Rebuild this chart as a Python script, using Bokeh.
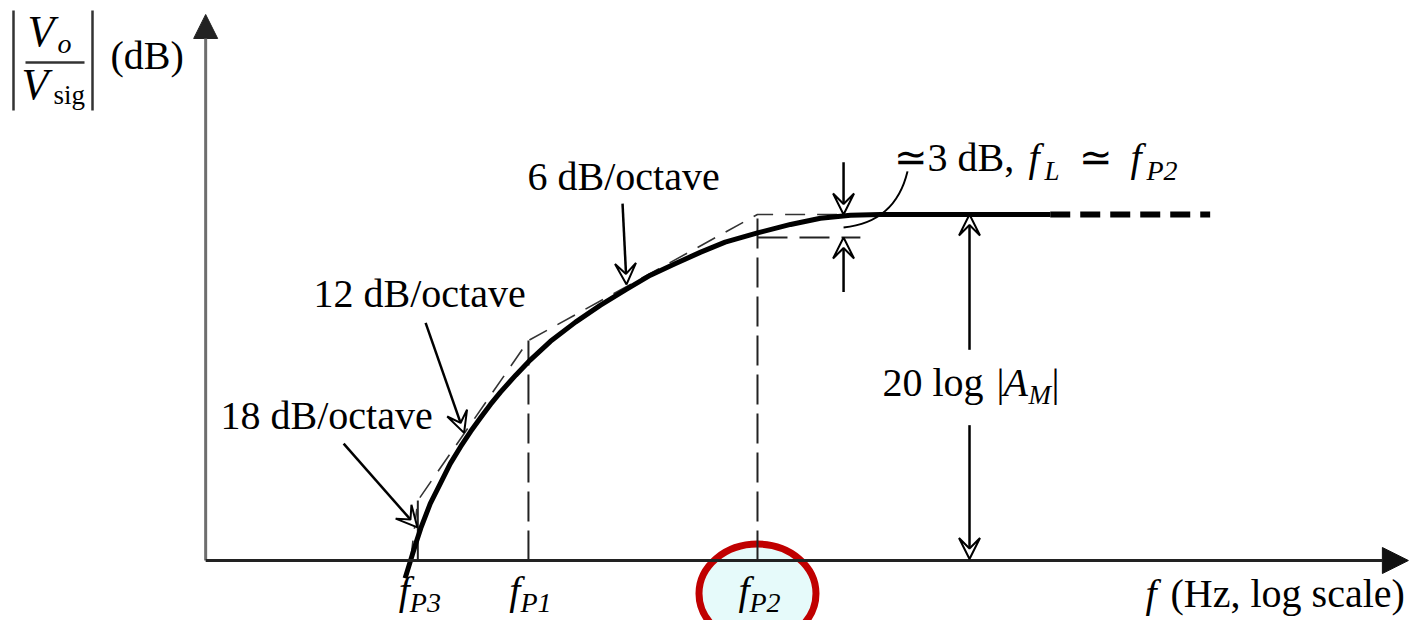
from bokeh.plotting import figure
from bokeh.models import Range1d, Arrow, VeeHead, NormalHead, Label
from bokeh.embed import file_html
from bokeh.resources import INLINE

# --- amplifier low-frequency response (three poles) ---
f_p3, f_p1, f_p2 = 12.0, 30.0, 200.0        # pole frequencies, Hz
am_db = 45.0                                  # 20 log|A_M|
drop_db = 3.0                                 # response is ~3 dB down at f_L ~ f_P2

# |Vo/Vsig| in dB along the log-frequency axis
resp_f = [10.8, 11.3, 11.8, 12.3, 13.3, 14.5, 15.7, 17.1, 18.6, 20.2, 21.9,
          23.8, 27.0, 30.5, 36.0, 44.3, 54.5, 67.0, 82.4, 101.0, 125.0, 153.0,
          200.0, 263.0, 337.0, 432.0, 554.0, 2260.0]
resp_db = [-2.3, 0.0, 2.2, 4.2, 7.4, 10.1, 12.6, 14.8, 16.8, 18.6, 20.3,
           21.9, 24.1, 26.1, 28.5, 31.0, 33.2, 35.2, 37.1, 38.6, 40.1, 41.4,
           42.6, 43.7, 44.5, 44.9, am_db, am_db]

# midband level continuing to higher frequencies
mid_f = [2260.0, 8500.0]
mid_db = [am_db, am_db]

# straight-line (Bode) asymptotes: 18 -> 12 -> 6 -> 0 dB/octave
asym_f = [11.3, f_p3, f_p1, f_p2, 400.0]
asym_db = [0.0, 7.8, 28.6, am_db, am_db]

W, H = 1414, 620
SERIF = "Liberation Serif"

p = figure(width=W, height=H, x_axis_type="log",
           x_range=Range1d(0.3784, 46180.0), y_range=Range1d(-7.8, 72.82),
           x_axis_location=None, y_axis_location=None,
           toolbar_location=None, output_backend="svg", min_border=0)
p.grid.visible = False
p.outline_line_color = None
p.background_fill_color = "white"
p.border_fill_color = "white"

f_origin = 2.07      # where the two axes meet
f_axis_end = 43900.0
db_axis_end = 71.0

# highlight around the f_P2 marker
p.ellipse(x=[f_p2], y=[-4.3], width=117, height=99,
          width_units="screen", height_units="screen",
          fill_color="#e6fafa", line_color="#c00000", line_width=7)

# axes drawn as arrows
p.add_layout(Arrow(end=NormalHead(size=24, fill_color="#222", line_color="#222"),
                   x_start=f_origin, y_start=0, x_end=f_origin, y_end=db_axis_end,
                   line_color="#6e6e6e", line_width=3))
p.add_layout(Arrow(end=NormalHead(size=26, fill_color="#111", line_color="#111"),
                   x_start=f_origin, y_start=0, x_end=f_axis_end, y_end=0,
                   line_color="#222", line_width=3))

# pole markers
p.line([f_p3, f_p3], [0, asym_db[1]], line_color="#222", line_width=2)
p.line([f_p1, f_p1], [0, asym_db[2]], line_color="#222", line_width=2,
       line_dash="30 9")
p.line([f_p2, f_p2], [0, am_db], line_color="#222", line_width=2,
       line_dash="30 9")

# asymptotes
p.line(asym_f, asym_db, line_color="#333", line_width=1.6, line_dash="20 12")
p.line([f_p2, 469.0], [am_db - drop_db, am_db - drop_db], line_color="#222",
       line_width=2, line_dash="30 12")

# response
p.line(resp_f, resp_db, line_color="black", line_width=5, line_join="round")
p.line(mid_f, mid_db, line_color="black", line_width=6, line_dash="20 10")


def pointer(x0, y0, x1, y1, size=21):
    p.add_layout(Arrow(end=VeeHead(size=size, fill_color="white",
                                   line_color="black", line_width=2),
                       x_start=x0, y_start=y0, x_end=x1, y_end=y1,
                       line_color="black", line_width=2.5))


# slope call-outs
pointer(65.4, 46.4, 67.6, 35.9)
pointer(12.8, 30.9, 17.6, 16.6)
pointer(6.49, 15.2, 11.96, 4.3)

# 3 dB markers
f_3db = 408.0
pointer(f_3db, 51.8, f_3db, am_db)
pointer(f_3db, 34.9, f_3db, am_db - drop_db)

# midband gain dimension
f_am = 1158.0
pointer(f_am, 27.4, f_am, am_db)
pointer(f_am, 17.6, f_am, 0.2)

# leader from the 3 dB note
p.quadratic(x0=[693.0], y0=[50.6], x1=[408.0], y1=[43.3], cx=[627.0], cy=[44.0],
            line_color="black", line_width=2)


def text(x, y, s, size=40, style="normal", align="left", xu="screen",
         xo=0, font=SERIF):
    # y is the baseline measured from the top; labels anchor on the text bottom,
    # so lift by the font descent
    p.add_layout(Label(x=x, y=H - y + 0.37 * size, text=s, x_units=xu,
                       y_units="screen", x_offset=xo, text_font=font,
                       text_font_size=f"{size}px", text_font_style=style,
                       text_align=align, text_baseline="alphabetic",
                       text_color="black"))


text(527, 191, "6 dB/octave")
text(313, 308, "12 dB/octave")
text(220, 430, "18 dB/octave")

# 20 log|A_M|
text(882, 397, "20 log")
text(996, 397, "|")
text(1003, 397, "A", style="italic")
text(1028, 404, "M", size=27, style="italic")
text(1051, 397, "|")

# ~3 dB, f_L ~ f_P2
text(893, 172, "\u22433 dB,")
text(1028, 172, "f", style="italic")
text(1044, 180, "L", size=27, style="italic")
text(1078, 172, "\u2243")
text(1130, 172, "f", style="italic")
text(1146, 180, "P2", size=28, style="italic")

# frequency axis labels
for fp, sub in ((f_p3, "P3"), (f_p1, "P1"), (f_p2, "P2")):
    text(fp, 605, "f", style="italic", align="right", xu="data", xo=-8)
    text(fp, 612, sub, size=28, style="italic", xu="data", xo=-8)

text(1145, 608, "f", style="italic")
text(1170, 608, "(Hz, log scale)")


# |Vo/Vsig| (dB)
def bar(x0, y0, x1, y1, w=2.5):
    p.add_layout(Arrow(end=None, start_units="screen", end_units="screen",
                       x_start=x0, y_start=H - y0, x_end=x1, y_end=H - y1,
                       line_color="#333", line_width=w))


bar(13, 10, 13, 110)
bar(92, 10, 92, 110)
bar(25, 62, 84, 62, w=2.5)
text(27, 47, "V", size=44, style="italic")
text(57, 53, "o", size=28, style="italic")
text(21, 100, "V", size=44, style="italic")
text(53, 104, "sig", size=27)
text(110, 70, "(dB)")

open("out.html", "w").write(file_html(p, INLINE))
